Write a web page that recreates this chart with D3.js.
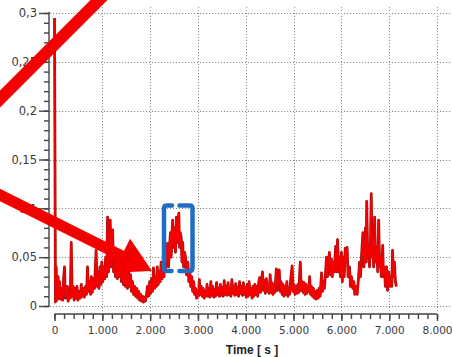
<!DOCTYPE html>
<html>
<head>
<meta charset="utf-8">
<script src="https://cdn.jsdelivr.net/npm/d3@7"></script>
<style>
  html, body { margin: 0; padding: 0; background: #fff; }
  svg { display: block; }
</style>
</head>
<body>
<svg id="chart" width="452" height="357"></svg>
<script>
// y ticks (major) and their labels
const yTicks = [0, 0.05, 0.1, 0.15, 0.2, 0.25, 0.3];
const yTickLabels = ["0", "0,05", "0,1", "0,15", "0,2", "0,25", "0,3"];
// x ticks (major) and their labels
const xTicks = [0, 1000, 2000, 3000, 4000, 5000, 6000, 7000, 8000];
const xTickLabels = ["0", "1.000", "2.000", "3.000", "4.000", "5.000", "6.000", "7.000", "8.000"];
const xTitle = "Time [ s ]";

const signal = [
  [0,0.295],[20,0.004],[35,0.04],[55,0.006],[75,0.03],[95,0.008],[105,0.025],[125,0.007],[150,0.018],[170,0.006],
  [190,0.028],[210,0.04],[225,0.008],[245,0.015],[270,0.02],[285,0.005],[305,0.012],[330,0.008],[350,0.065],[370,0.01],
  [390,0.02],[410,0.006],[430,0.018],[450,0.008],[470,0.02],[490,0.006],[515,0.015],[540,0.008],[560,0.022],[580,0.01],
  [605,0.018],[625,0.009],[650,0.02],[670,0.012],[690,0.04],[710,0.015],[735,0.025],[755,0.012],[770,0.03],[790,0.014],
  [815,0.028],[835,0.018],[850,0.035],[870,0.057],[890,0.02],[910,0.035],[930,0.018],[950,0.04],[970,0.022],[990,0.045],
  [1010,0.025],[1030,0.04],[1050,0.028],[1070,0.05],[1090,0.03],[1110,0.091],[1130,0.035],[1150,0.06],[1165,0.088],[1185,0.04],
  [1200,0.06],[1215,0.078],[1235,0.035],[1255,0.055],[1275,0.03],[1295,0.05],[1315,0.028],[1335,0.045],[1355,0.03],[1375,0.055],
  [1400,0.025],[1420,0.04],[1440,0.022],[1465,0.038],[1485,0.02],[1505,0.035],[1525,0.018],[1545,0.04],[1565,0.02],[1590,0.032],
  [1610,0.015],[1630,0.025],[1655,0.012],[1675,0.02],[1695,0.01],[1720,0.018],[1740,0.008],[1760,0.015],[1780,0.006],[1800,0.012],
  [1820,0.005],[1840,0.01],[1860,0.004],[1880,0.009],[1900,0.005],[1925,0.012],[1945,0.02],[1965,0.01],[1990,0.025],[2010,0.013],
  [2030,0.028],[2050,0.015],[2070,0.039],[2090,0.018],[2110,0.03],[2130,0.02],[2150,0.04],[2170,0.022],[2190,0.035],[2210,0.025],
  [2230,0.045],[2250,0.028],[2270,0.04],[2290,0.03],[2300,0.05],[2320,0.035],[2345,0.055],[2365,0.064],[2385,0.04],[2405,0.06],
  [2425,0.075],[2440,0.05],[2455,0.07],[2470,0.088],[2490,0.06],[2510,0.08],[2530,0.055],[2550,0.091],[2570,0.065],[2585,0.08],
  [2600,0.095],[2615,0.06],[2630,0.075],[2650,0.07],[2665,0.045],[2680,0.065],[2700,0.04],[2720,0.055],[2740,0.05],[2760,0.032],
  [2790,0.045],[2810,0.025],[2830,0.035],[2850,0.02],[2870,0.03],[2890,0.015],[2910,0.025],[2930,0.012],[2950,0.018],[2970,0.008],
  [2990,0.015],[3010,0.01],[3030,0.027],[3050,0.012],[3070,0.02],[3090,0.01],[3110,0.018],[3130,0.008],[3150,0.015],[3170,0.01],
  [3190,0.022],[3210,0.01],[3230,0.018],[3250,0.009],[3270,0.025],[3290,0.011],[3310,0.02],[3330,0.009],[3350,0.017],[3370,0.01],
  [3390,0.024],[3410,0.012],[3430,0.018],[3450,0.01],[3470,0.022],[3490,0.011],[3510,0.019],[3530,0.01],[3550,0.026],[3570,0.012],
  [3590,0.02],[3610,0.011],[3630,0.024],[3650,0.012],[3670,0.018],[3690,0.01],[3710,0.027],[3730,0.013],[3750,0.02],[3770,0.011],
  [3790,0.023],[3810,0.012],[3830,0.019],[3850,0.01],[3870,0.025],[3890,0.013],[3910,0.02],[3930,0.011],[3950,0.024],[3970,0.012],
  [3990,0.019],[4010,0.009],[4030,0.022],[4050,0.01],[4070,0.025],[4090,0.012],[4110,0.018],[4130,0.008],[4150,0.02],[4170,0.01],
  [4190,0.022],[4210,0.012],[4230,0.02],[4250,0.01],[4270,0.024],[4290,0.029],[4310,0.014],[4330,0.025],[4350,0.035],[4370,0.016],
  [4390,0.026],[4410,0.013],[4430,0.028],[4450,0.015],[4470,0.022],[4490,0.013],[4510,0.032],[4530,0.014],[4550,0.024],[4570,0.012],
  [4590,0.022],[4610,0.014],[4640,0.038],[4660,0.016],[4680,0.028],[4700,0.037],[4720,0.015],[4740,0.025],[4760,0.012],[4780,0.022],
  [4800,0.01],[4820,0.02],[4840,0.012],[4860,0.025],[4880,0.01],[4900,0.018],[4920,0.012],[4945,0.03],[4970,0.041],[4990,0.015],
  [5010,0.022],[5030,0.012],[5050,0.02],[5070,0.013],[5090,0.022],[5110,0.014],[5140,0.045],[5160,0.016],[5180,0.025],[5200,0.014],
  [5220,0.024],[5240,0.012],[5260,0.022],[5280,0.013],[5300,0.02],[5320,0.015],[5335,0.03],[5355,0.012],[5375,0.02],[5395,0.01],
  [5415,0.018],[5435,0.008],[5455,0.015],[5475,0.007],[5495,0.016],[5515,0.008],[5535,0.018],[5555,0.01],[5585,0.034],[5605,0.015],
  [5625,0.025],[5645,0.018],[5670,0.035],[5690,0.05],[5710,0.03],[5730,0.045],[5750,0.055],[5770,0.032],[5790,0.048],[5810,0.03],
  [5830,0.045],[5850,0.035],[5880,0.061],[5900,0.035],[5920,0.068],[5940,0.035],[5960,0.05],[5980,0.03],[6000,0.055],[6020,0.025],
  [6040,0.05],[6060,0.03],[6080,0.059],[6100,0.045],[6120,0.06],[6140,0.03],[6170,0.04],[6190,0.02],[6210,0.03],[6240,0.018],
  [6260,0.025],[6280,0.012],[6310,0.02],[6330,0.012],[6360,0.03],[6380,0.045],[6400,0.03],[6420,0.05],[6450,0.075],[6470,0.04],
  [6490,0.06],[6505,0.08],[6520,0.045],[6530,0.107],[6550,0.05],[6570,0.06],[6590,0.04],[6610,0.07],[6625,0.115],[6640,0.05],
  [6655,0.07],[6675,0.04],[6695,0.091],[6715,0.045],[6740,0.06],[6760,0.035],[6780,0.088],[6800,0.04],[6820,0.05],[6835,0.03],
  [6865,0.062],[6880,0.03],[6900,0.04],[6920,0.02],[6945,0.04],[6965,0.016],[6990,0.035],[7010,0.02],[7040,0.03],[7055,0.02],
  [7070,0.057],[7090,0.03],[7110,0.045],[7130,0.025],[7150,0.02]
];

const svg = d3.select("#chart");
const W = 452;

const x = d3.scaleLinear().domain([0, 8000]).range([54.5, 437]);
const y = d3.scaleLinear().domain([0, 0.3]).range([306, 13]);
const axisX = 49;     // y axis line position
const axisY = 314;    // x axis line position

// grid (dotted)
const grid = svg.append("g").attr("stroke", "#8f8f8f").attr("stroke-width", 1)
  .attr("stroke-dasharray", "1.2,1.8").attr("fill", "none");
grid.selectAll("line.h").data(yTicks).join("line")
  .attr("x1", axisX + 1).attr("x2", W)
  .attr("y1", d => Math.round(y(d)) + 0.5).attr("y2", d => Math.round(y(d)) + 0.5);
grid.selectAll("line.v").data(xTicks.slice(1)).join("line")
  .attr("x1", d => Math.round(x(d)) + 0.5).attr("x2", d => Math.round(x(d)) + 0.5)
  .attr("y1", 7).attr("y2", axisY - 2);

// y axis: minor ticks then major with labels
const yMinor = d3.range(0, 0.3001, 0.01);
const yAxisG = svg.append("g").attr("transform", `translate(${axisX},0)`);
yAxisG.call(d3.axisLeft(y).tickValues(yMinor).tickSize(5).tickFormat(""))
  .call(g => g.select(".domain").remove());
yAxisG.call(g => g.append("g").call(d3.axisLeft(y).tickValues(yTicks).tickSize(10)
    .tickFormat((d, i) => yTickLabels[i]))
  .call(a => a.select(".domain").remove()));
yAxisG.append("line").attr("x1", 0).attr("x2", 0).attr("y1", y(0.3) - 1).attr("y2", y(0) + 1);
yAxisG.selectAll("line").attr("stroke", "#444").attr("stroke-width", 1.4);
yAxisG.selectAll("text").attr("font-family", "DejaVu Sans, sans-serif").attr("font-size", 11.5)
  .attr("fill", "#3a3a3a").attr("x", -12);

// x axis
const xMinor = d3.range(0, 8001, 200);
const xAxisG = svg.append("g").attr("transform", `translate(0,${axisY})`);
xAxisG.call(d3.axisBottom(x).tickValues(xMinor).tickSize(5).tickFormat(""))
  .call(g => g.select(".domain").remove());
xAxisG.call(g => g.append("g").call(d3.axisBottom(x).tickValues(xTicks).tickSize(7)
    .tickFormat((d, i) => xTickLabels[i]))
  .call(a => a.select(".domain").remove()));
xAxisG.append("line").attr("x1", x(0)).attr("x2", x(8000)).attr("y1", 0).attr("y2", 0);
xAxisG.selectAll("line").attr("stroke", "#444").attr("stroke-width", 1.4);
xAxisG.selectAll("text").attr("font-family", "DejaVu Sans, sans-serif").attr("font-size", 10.5)
  .attr("fill", "#3a3a3a").attr("y", 13);

svg.append("text").attr("x", 252).attr("y", 354).attr("text-anchor", "middle")
  .attr("font-family", "Liberation Sans, Arial, sans-serif").attr("font-weight", "bold")
  .attr("font-size", 12).attr("fill", "#222").text(xTitle);

// signal line
const line = d3.line().x(d => x(d[0])).y(d => y(d[1]));
svg.append("path").datum(signal).attr("d", line)
  .attr("fill", "none").attr("stroke", "#9c1414").attr("stroke-width", 2.8).attr("stroke-linejoin", "round");
svg.append("path").datum(signal).attr("d", line)
  .attr("fill", "none").attr("stroke", "#f40000").attr("stroke-width", 1.7).attr("stroke-linejoin", "round");

// annotations: red strokes, arrow and blue bracket
const ann = svg.append("g");
ann.append("line").attr("x1", 114).attr("y1", -15).attr("x2", -15).attr("y2", 114)
  .attr("stroke", "#f50000").attr("stroke-width", 12);

const tip = [152, 271], from = [-10, 190];
const dx = tip[0] - from[0], dy = tip[1] - from[1], len = Math.hypot(dx, dy);
const ux = dx / len, uy = dy / len, nx = -uy, ny = ux;
const base = [tip[0] - 34 * ux, tip[1] - 34 * uy];
ann.append("line").attr("x1", from[0]).attr("y1", from[1]).attr("x2", base[0] + 2 * ux).attr("y2", base[1] + 2 * uy)
  .attr("stroke", "#f50000").attr("stroke-width", 11);
ann.append("path")
  .attr("d", `M${tip[0]},${tip[1]}L${base[0] + 19 * nx},${base[1] + 19 * ny}L${base[0] - 19 * nx},${base[1] - 19 * ny}Z`)
  .attr("fill", "#f50000");

const br = ann.append("g").attr("fill", "none").attr("stroke", "#1f6cc4").attr("stroke-width", 4.5)
  .attr("stroke-linejoin", "round").attr("stroke-linecap", "round");
br.append("path").attr("d", "M172,205.5 L167,205.5 Q164,205.5 164,208.5 L164,268 Q164,271 167,271 L171.5,271");
br.append("path").attr("d", "M179.5,205.5 L189.5,205.5 Q192.5,205.5 192.5,208.5 L192.5,268 Q192.5,271 189.5,271 L179.5,271");
</script>
</body>
</html>
